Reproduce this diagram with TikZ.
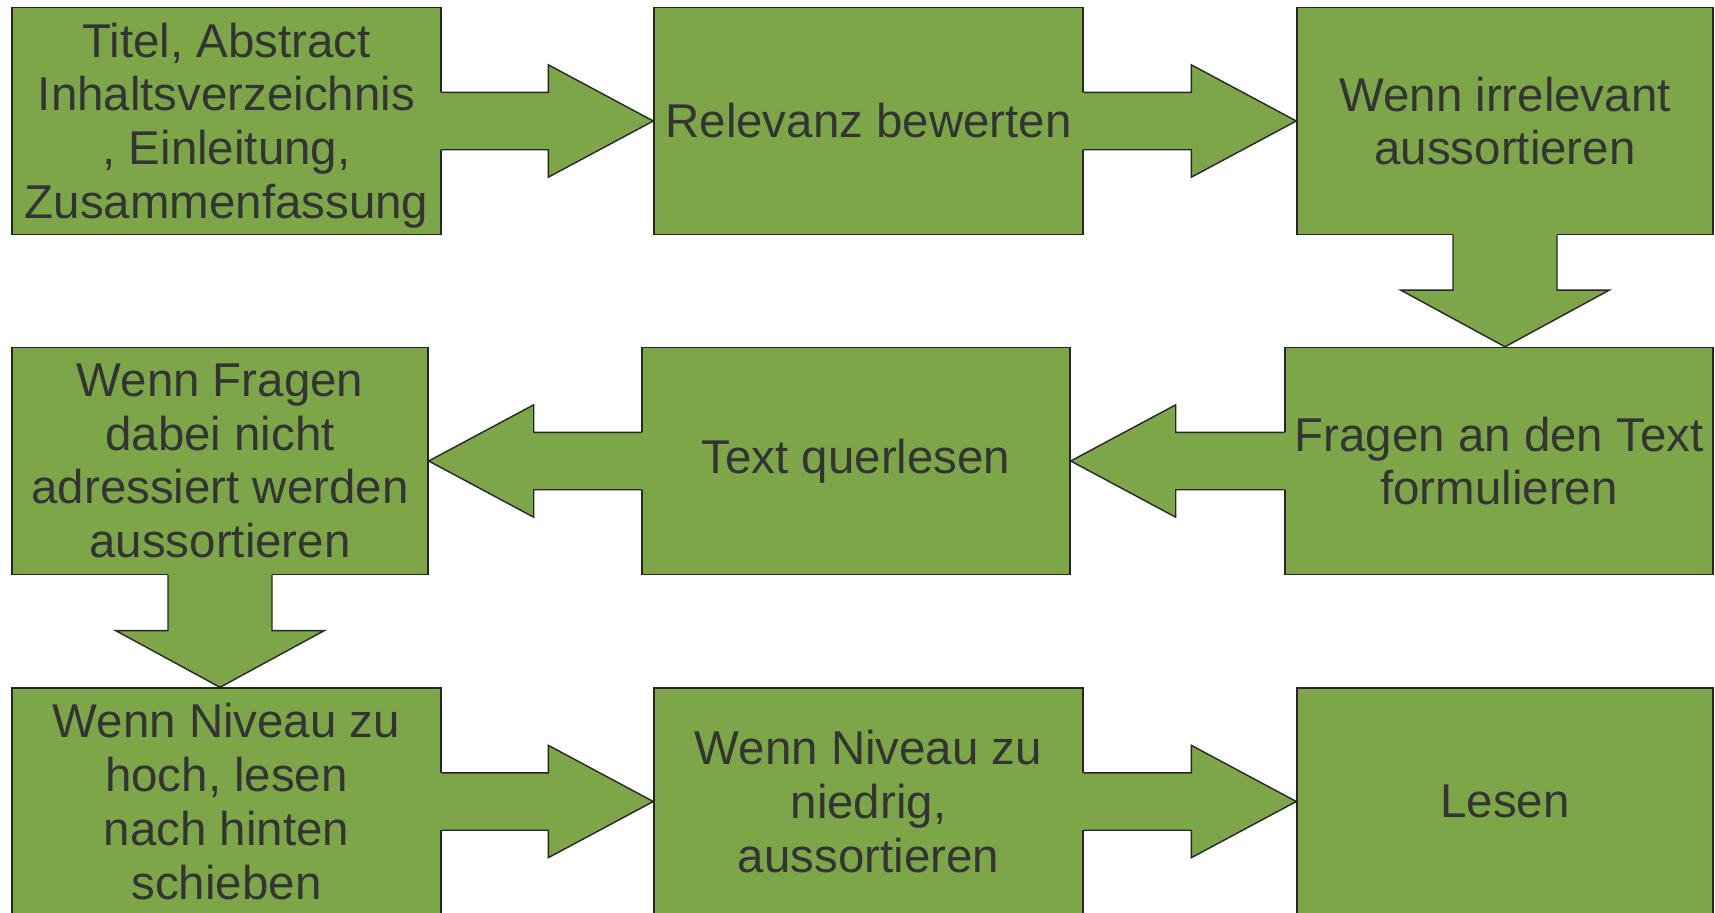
\documentclass[tikz,border=0pt]{standalone}
\usepackage{fontspec}
\setmainfont{Liberation Sans}
\usepackage{tikz}
\usetikzlibrary{calc, positioning}
\definecolor{mygreen}{RGB}{125,166,73}
\definecolor{mytext}{RGB}{52,52,52}
% block arrow: from, to, half shaft width, half head width, head length
% (the shaft is filled a little into the box, so its border is covered there)
\newcommand{\blockpfeil}[5]{%
  \coordinate (pfA) at (#1);
  \coordinate (pfB) at (#2);
  \coordinate (pfC) at ($(pfB)!#5!(pfA)$);
  \coordinate (pfD) at ($(pfA)!-0.6pt!(pfB)$);
  \fill[mygreen] ($(pfD)!#3!90:(pfB)$) -- ($(pfC)!#3!90:(pfB)$)
    -- ($(pfC)!#4!90:(pfB)$) -- (pfB) -- ($(pfC)!#4!-90:(pfB)$)
    -- ($(pfC)!#3!-90:(pfB)$) -- ($(pfD)!#3!-90:(pfB)$) -- cycle;
  \draw[pfeil] ($(pfA)!#3!90:(pfB)$) -- ($(pfC)!#3!90:(pfB)$)
    -- ($(pfC)!#4!90:(pfB)$) -- (pfB) -- ($(pfC)!#4!-90:(pfB)$)
    -- ($(pfC)!#3!-90:(pfB)$) -- ($(pfA)!#3!-90:(pfB)$);
}
\newcommand{\hpfeil}[2]{\blockpfeil{#1}{#2}{2.87mm}{5.62mm}{10.5mm}}
\newcommand{\vpfeil}[2]{\blockpfeil{#1}{#2}{5.2mm}{10.43mm}{5.67mm}}
\tikzset{
  schritt/.style = {rectangle, fill = mygreen, draw = black!85, line width = 0.4pt,
                    minimum height = 2.27cm, inner sep = 0pt, align = center,
                    text = mytext, font = \fontsize{13.5}{15.3}\selectfont},
  pfeil/.style = {draw = black!85, line width = 0.4pt, line join = miter}
}
\begin{document}
\begin{tikzpicture}
\clip (0,0) rectangle (17.15,-9.12);

%Upper row
\node[schritt, minimum width=4.29cm] (titel) at (2.265,-1.21)
    {\rule{0pt}{12.4pt}Titel, Abstract\\Inhaltsverzeichnis\\, Einleitung,\\Zusammenfassung};
\node[schritt, minimum width=4.29cm] (relevanz) at (8.685,-1.21) {Relevanz bewerten};
\node[schritt, minimum width=4.16cm] (irrelevant) at (15.05,-1.21)
    {Wenn irrelevant\\aussortieren};

%Middle row
\node[schritt, minimum width=4.28cm] (fragen) at (14.99,-4.61)
    {Fragen an den Text\\formulieren};
\node[schritt, minimum width=4.28cm] (querlesen) at (8.56,-4.61) {Text querlesen};
\node[schritt, minimum width=4.16cm] (nichtadressiert) at (2.20,-4.61)
    {Wenn Fragen\\dabei nicht\\adressiert werden\\aussortieren};

%Lower row
\node[schritt, minimum width=4.29cm] (zuhoch) at (2.265,-8.015)
    {Wenn Niveau zu\\hoch, lesen\\nach hinten\\schieben};
\node[schritt, minimum width=4.29cm] (zuniedrig) at (8.685,-8.015)
    {Wenn Niveau zu\\niedrig,\\aussortieren};
\node[schritt, minimum width=4.16cm] (lesen) at (15.05,-8.015) {Lesen};

% arrows between the steps
\hpfeil{titel.east}{relevanz.west}
\hpfeil{relevanz.east}{irrelevant.west}
\vpfeil{irrelevant.south}{irrelevant.south |- fragen.north}
\hpfeil{fragen.west}{querlesen.east}
\hpfeil{querlesen.west}{nichtadressiert.east}
\vpfeil{nichtadressiert.south}{nichtadressiert.south |- zuhoch.north}
\hpfeil{zuhoch.east}{zuniedrig.west}
\hpfeil{zuniedrig.east}{lesen.west}
\end{tikzpicture}
\end{document}
